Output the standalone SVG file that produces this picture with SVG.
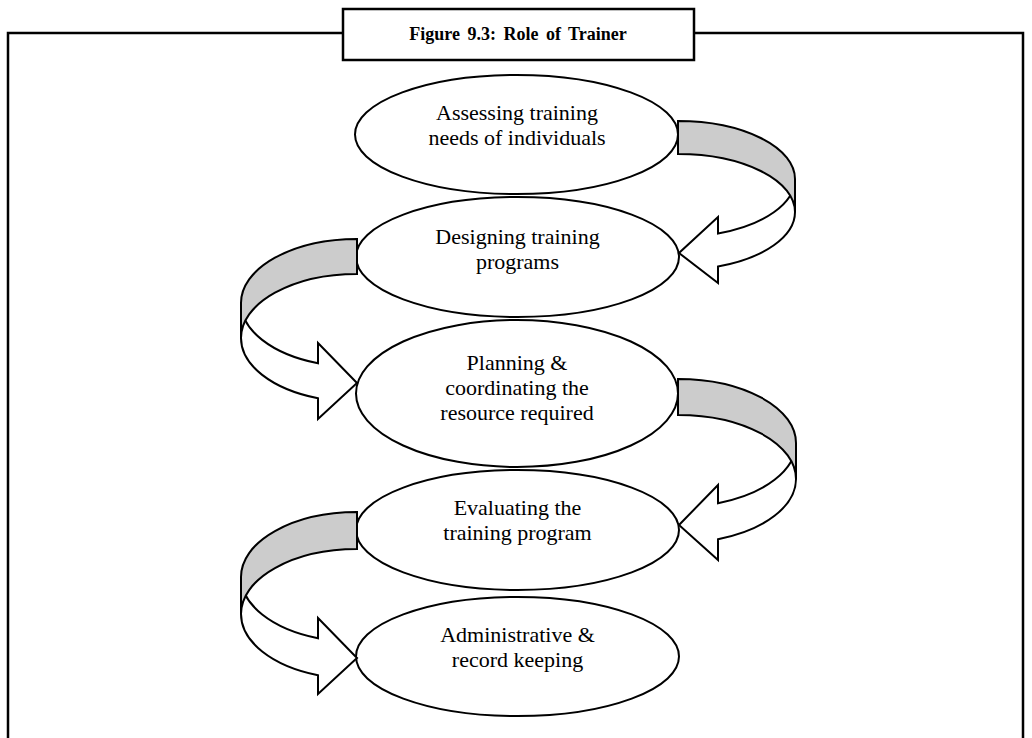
<svg xmlns="http://www.w3.org/2000/svg" width="1032" height="738" viewBox="0 0 1032 738">
<defs>
<style>
.frame{fill:none;stroke:#000;stroke-width:2.5}
.tbox{fill:#fff;stroke:#000;stroke-width:2.5}
.title{font-family:"Liberation Serif","Times New Roman",serif;font-size:18px;font-weight:bold;fill:#000;text-anchor:middle}
.node ellipse{fill:#fff;stroke:#000;stroke-width:2}
.node text{font-family:"Liberation Serif","Times New Roman",serif;font-size:22px;fill:#000;text-anchor:middle}
.front{fill:#fff;stroke:#000;stroke-width:2;stroke-linejoin:miter}
.back{fill:#cccccc;stroke:#000;stroke-width:2;stroke-linejoin:miter}
</style>
</defs>
<rect width="1032" height="738" fill="#fff"/>
<g id="frame">
<path class="frame" d="M8,742 L8,33 L1023,33 L1023,742"/>
<rect class="tbox" x="343" y="9" width="351" height="51"/>
<text class="title" x="518" y="40" word-spacing="3">Figure 9.3: Role of Trainer</text>
</g>
<g id="node1" class="node">
<ellipse cx="516.5" cy="134.5" rx="161.5" ry="59.5"/>
<text x="517" y="120">Assessing training</text>
<text x="517" y="145">needs of individuals</text>
</g>
<g id="node2" class="node">
<ellipse cx="517.5" cy="257" rx="161.5" ry="60"/>
<text x="517.5" y="244">Designing training</text>
<text x="517.5" y="269">programs</text>
</g>
<g id="node3" class="node">
<ellipse cx="517" cy="393.5" rx="161" ry="73.5"/>
<text x="517" y="370">Planning &amp;</text>
<text x="517" y="395">coordinating the</text>
<text x="517" y="420">resource required</text>
</g>
<g id="node4" class="node">
<ellipse cx="517.5" cy="530" rx="161.5" ry="60"/>
<text x="517.5" y="515">Evaluating the</text>
<text x="517.5" y="540">training program</text>
</g>
<g id="node5" class="node">
<ellipse cx="517.5" cy="656.5" rx="161.5" ry="59.5"/>
<text x="517.5" y="642">Administrative &amp;</text>
<text x="517.5" y="667">record keeping</text>
</g>
<g id="connectors">
<path class="front" d="M795,179 A117,58 0 0 1 718,233.5 L718,217 L679,253 L718,283 L718,266.5 A117,58 0 0 0 795,212 Z"/>
<path class="back" d="M678,121 A117,58 0 0 1 795,179 L795,212 A117,58 0 0 0 678,154 Z"/>
<path class="front" d="M241,303 A116,64 0 0 0 318,363.3 L318,343 L357,383 L318,419 L318,398.3 A116,64 0 0 1 241,338 Z"/>
<path class="back" d="M357,239 A116,64 0 0 0 241,303 L241,338 A116,64 0 0 1 357,274 Z"/>
<path class="front" d="M796,443 A118,64 0 0 1 718,503.2 L718,485 L679,525 L718,560 L718,539.2 A118,64 0 0 0 796,479 Z"/>
<path class="back" d="M678,379 A118,64 0 0 1 796,443 L796,479 A118,64 0 0 0 678,415 Z"/>
<path class="front" d="M241,577 A116,65 0 0 0 318,638.2 L318,618 L357,658 L318,694 L318,675.2 A116,65 0 0 1 241,614 Z"/>
<path class="back" d="M357,512 A116,65 0 0 0 241,577 L241,614 A116,65 0 0 1 357,549 Z"/>
</g>
</svg>
